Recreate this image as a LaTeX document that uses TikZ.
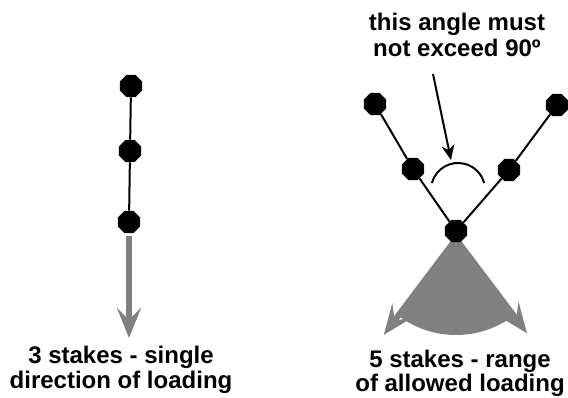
\documentclass[tikz,border=0pt]{standalone}
\usepackage{fontspec}
\setmainfont{Liberation Sans}
\usetikzlibrary{shapes.geometric,arrows.meta}
\definecolor{fangray}{RGB}{128,128,128}
\tikzset{
  stake/.style={regular polygon, regular polygon sides=8, fill=black, draw=none, minimum size=24pt, inner sep=0pt},
  link/.style={line width=2pt, black},
  load/.style={line width=6pt, fangray, -{Stealth[length=30pt,width=24pt,inset=12pt]}},
  lbl/.style={font=\fontsize{24}{26}\selectfont\bfseries, align=center, anchor=base, inner sep=0pt}
}
\begin{document}
\begin{tikzpicture}[x=1pt,y=-1pt]
\useasboundingbox (0,0) rectangle (568,398);
% left stakes
\node[stake] (l1) at (131,86) {};
\node[stake] (l2) at (130,151) {};
\node[stake] (l3) at (129,222) {};
\draw[link] (l1) -- (l2) -- (l3);
\coordinate (lstart) at (129,236);
\coordinate (ltip) at (129,338);
\draw[load] (lstart) -- (ltip);
% right fan
\coordinate (apex) at (456,239);
\fill[fangray] (apex) -- ++(53:96) arc[start angle=53, end angle=127, radius=96] -- cycle;
\coordinate (fl) at ([shift={(127:120)}]apex);
\coordinate (fr) at ([shift={(53:118)}]apex);
\draw[load] (apex) -- (fl);
\draw[load] (apex) -- (fr);
% right stakes
\node[stake] (r1) at (375,104) {};
\node[stake] (r2) at (413,169) {};
\node[stake] (r5) at (557,105) {};
\node[stake] (r4) at (509,170) {};
\node[stake] (r3) at (456,231) {};
\draw[link] (r1) -- (r2) -- (r3) -- (r4) -- (r5);
% angle arc
\draw[line width=2pt] (458,190) ++(195:27) arc[start angle=195, end angle=345, radius=27];
% pointer arrow
\coordinate (ps) at (433,74);
\coordinate (pe) at (451,160);
\draw[line width=2pt, -{Stealth[length=15pt,width=13pt,inset=5pt]}] (ps) -- (pe);
% texts
\node[lbl] (t1) at (457,31) {this angle must};
\node[lbl] (t2) at (457,57) {not exceed 90º};
\node[lbl] (b1) at (121,363) {3 stakes - single};
\node[lbl] (b2) at (121,388) {direction of loading};
\node[lbl] (b3) at (460,367) {5 stakes - range};
\node[lbl] (b4) at (460,391) {of allowed loading};
\end{tikzpicture}
\end{document}
